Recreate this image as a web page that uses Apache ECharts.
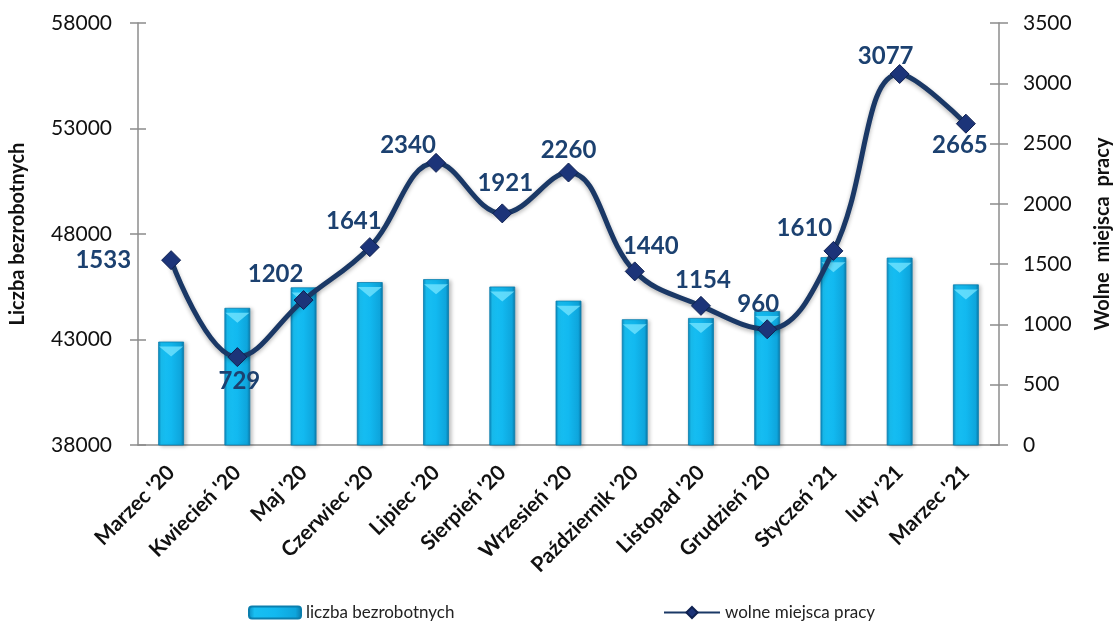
<!DOCTYPE html>
<html>
<head>
<meta charset="utf-8">
<script src="https://cdn.jsdelivr.net/npm/echarts@6/dist/echarts.min.js"></script>
<style>
  html, body { margin: 0; padding: 0; background: #fff; }
  #chart { width: 1116px; height: 623px; }
</style>
</head>
<body>
<div id="chart"></div>
<script>
// miesiące
const months = ["Marzec '20", "Kwiecień '20", "Maj '20", "Czerwiec '20", "Lipiec '20", "Sierpień '20",
  "Wrzesień '20", "Październik '20", "Listopad '20", "Grudzień '20", "Styczeń '21", "luty '21", "Marzec '21"]
// liczba bezrobotnych
const unemployed = [42900, 44500, 45470, 45720, 45860, 45510, 44840, 43960, 44020, 44350, 46900, 46880, 45610]
// wolne miejsca pracy
const vacancies = [1533, 729, 1202, 1641, 2340, 1921, 2260, 1440, 1154, 960, 1610, 3077, 2665]
// położenie etykiet
const labelPos = ['left', 'bottom', 'top', 'top', 'top', 'top', 'top', 'top', 'top', 'top', 'top', 'top', 'bottom']
const labelOffset = [[-22, 0], [2, -6], [-28, 4], [-16, 4], [-28, 12], [3, 0], [0, 8], [16, 5], [2, 4], [-9, 5], [-29, 7], [-14, 12], [-6, -8]]

const FONT = 'Lato, "Open Sans", sans-serif'
const AXIS_GRAY = '#8c8c8c'
const NAVY = '#1a3866'

const chart = echarts.init(document.getElementById('chart'))

const barColor = new echarts.graphic.LinearGradient(0, 0, 1, 0, [
  { offset: 0, color: '#0a88bd' },
  { offset: 0.12, color: '#18bff2' },
  { offset: 0.5, color: '#12b9f0' },
  { offset: 0.88, color: '#0ea5dc' },
  { offset: 1, color: '#0a78a8' }
])

const option = {
  animation: false,
  textStyle: { fontFamily: FONT },
  grid: { left: 138, right: 117, top: 23, bottom: 178, outerBoundsMode: 'none', containLabel: false },
  legend: [
    {
      left: 243, top: 599,
      data: ['liczba bezrobotnych'],
      itemWidth: 52, itemHeight: 12,
      textStyle: { fontSize: 17, color: '#222', fontFamily: FONT }
    },
    {
      left: 658, top: 599,
      data: ['wolne miejsca pracy'],
      itemWidth: 56, itemHeight: 14,
      textStyle: { fontSize: 17, color: '#222', fontFamily: FONT }
    }
  ],
  xAxis: [
    {
      type: 'category',
      data: months,
      position: 'bottom',
      axisLine: { lineStyle: { color: AXIS_GRAY, width: 1.5 } },
      axisTick: { length: 8, lineStyle: { color: AXIS_GRAY, width: 1.5 } },
      axisLabel: {
        rotate: 45, interval: 0, margin: 24,
        fontSize: 21, fontWeight: 'bold', color: '#111', fontFamily: FONT
      }
    },
    {
      // tylko kreski do wewnątrz
      type: 'category',
      data: months,
      position: 'bottom',
      axisLine: { show: false },
      axisTick: { inside: true, length: 7, lineStyle: { color: AXIS_GRAY, width: 1.5 } },
      axisLabel: { show: false }
    }
  ],
  yAxis: [
    {
      type: 'value',
      min: 38000, max: 58000, interval: 5000,
      position: 'left',
      name: 'Liczba bezrobotnych',
      nameLocation: 'middle', nameGap: 110, nameRotate: 90,
      nameTextStyle: { fontSize: 20, fontWeight: 'bold', color: '#111', fontFamily: FONT },
      splitLine: { show: false },
      axisLine: { show: true, lineStyle: { color: AXIS_GRAY, width: 1.5 } },
      axisTick: { show: true, length: 8, lineStyle: { color: AXIS_GRAY, width: 1.5 } },
      axisLabel: { fontSize: 21, color: '#111', margin: 26, fontFamily: FONT, formatter: v => String(v) }
    },
    {
      type: 'value',
      min: 0, max: 3500, interval: 500,
      position: 'right',
      name: 'Wolne  miejsca  pracy',
      nameLocation: 'middle', nameGap: 94, nameRotate: 90,
      nameTextStyle: { fontSize: 20, fontWeight: 'bold', color: '#111', fontFamily: FONT },
      splitLine: { show: false },
      axisLine: { show: true, lineStyle: { color: AXIS_GRAY, width: 1.5 } },
      axisTick: { show: true, length: 9, lineStyle: { color: AXIS_GRAY, width: 1.5 } },
      axisLabel: { fontSize: 21, color: '#111', margin: 24, fontFamily: FONT, formatter: v => String(v) }
    },
    {
      type: 'value', min: 38000, max: 58000, interval: 5000, position: 'left',
      splitLine: { show: false }, axisLine: { show: false }, axisLabel: { show: false },
      axisTick: { show: true, inside: true, length: 8, lineStyle: { color: AXIS_GRAY, width: 1.5 } }
    },
    {
      type: 'value', min: 0, max: 3500, interval: 500, position: 'right',
      splitLine: { show: false }, axisLine: { show: false }, axisLabel: { show: false },
      axisTick: { show: true, inside: true, length: 9, lineStyle: { color: AXIS_GRAY, width: 1.5 } }
    }
  ],
  series: [
    {
      name: 'liczba bezrobotnych',
      type: 'bar',
      yAxisIndex: 0,
      barWidth: '39%',
      data: unemployed,
      itemStyle: {
        color: barColor,
        borderColor: '#0b7fae',
        borderWidth: 0.8,
        shadowColor: 'rgba(0,0,0,0.25)',
        shadowBlur: 4,
        shadowOffsetX: 2,
        shadowOffsetY: 1
      }
    },
    {
      // jasny trójkąt na górze słupka (efekt 3D)
      name: 'bevel',
      type: 'pictorialBar',
      yAxisIndex: 0,
      symbol: 'triangle',
      symbolRotate: 180,
      symbolPosition: 'end',
      symbolSize: [24, 10],
      symbolOffset: [0, '50%'],
      barGap: '-100%',
      z: 3,
      silent: true,
      itemStyle: { color: 'rgba(120, 230, 255, 0.75)' },
      data: unemployed
    },
    {
      name: 'wolne miejsca pracy',
      type: 'line',
      yAxisIndex: 1,
      smooth: 0.4,
      symbol: 'diamond',
      symbolSize: 19,
      z: 5,
      lineStyle: {
        color: NAVY, width: 5,
        shadowColor: 'rgba(0,0,0,0.3)', shadowBlur: 4, shadowOffsetY: 2
      },
      itemStyle: { color: '#1c3479', borderColor: '#0f2150', borderWidth: 1 },
      data: vacancies.map((v, i) => ({
        value: v,
        label: { position: labelPos[i], offset: labelOffset[i] }
      })),
      label: {
        show: true,
        distance: 8,
        fontSize: 24,
        fontWeight: 'bold',
        color: '#1c4170',
        fontFamily: FONT
      }
    }
  ]
}

chart.setOption(option)
</script>
</body>
</html>
